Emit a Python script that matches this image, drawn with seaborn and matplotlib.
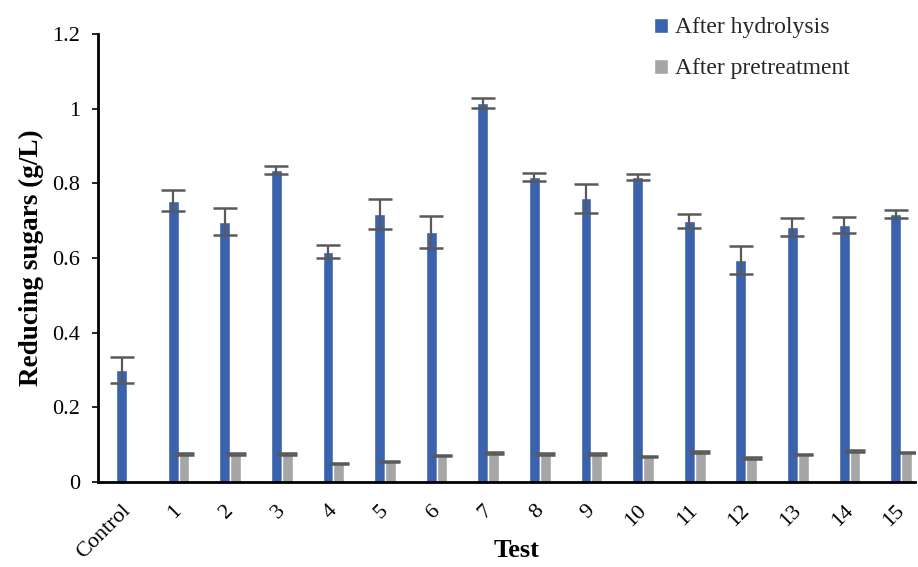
import matplotlib
matplotlib.use("Agg")
import matplotlib.pyplot as plt
import matplotlib.transforms as mtransforms
import seaborn as sns
import pandas as pd
import numpy as np

tests = ["Control", "1", "2", "3", "4", "5", "6", "7", "8", "9", "10",
         "11", "12", "13", "14", "15"]
hydrolysis = [0.300, 0.753, 0.697, 0.836, 0.617, 0.718, 0.670, 1.016,
              0.816, 0.760, 0.817, 0.699, 0.595, 0.683, 0.688, 0.718]
hydrolysis_err = [0.034, 0.028, 0.036, 0.010, 0.018, 0.040, 0.042, 0.013,
                  0.011, 0.039, 0.008, 0.019, 0.037, 0.024, 0.022, 0.011]
pretreatment = [np.nan, 0.075, 0.075, 0.075, 0.050, 0.055, 0.071, 0.078,
                0.075, 0.075, 0.068, 0.080, 0.064, 0.073, 0.083, 0.079]
pretreatment_err = [0.0, 0.002, 0.002, 0.002, 0.002, 0.002, 0.002, 0.002,
                    0.002, 0.002, 0.002, 0.002, 0.002, 0.002, 0.002, 0.002]

series = ["After hydrolysis", "After pretreatment"]
colors = {"After hydrolysis": "#3A62AD", "After pretreatment": "#A6A6A6"}

df = pd.DataFrame({
    "Test": tests * 2,
    "Series": [series[0]] * len(tests) + [series[1]] * len(tests),
    "Value": hydrolysis + pretreatment,
})
errors = {series[0]: hydrolysis_err, series[1]: pretreatment_err}

sns.set_theme(style="white")
plt.rcParams["font.family"] = ["Liberation Serif", "DejaVu Serif"]

fig = plt.figure(figsize=(9.18, 5.67), dpi=100)
ax = fig.add_axes([0.1068, 0.150, 0.890, 0.790])

sns.barplot(data=df, x="Test", y="Value", hue="Series", order=tests,
            hue_order=series, palette=colors, width=0.42, errorbar=None,
            saturation=1, ax=ax, legend=True)

# error bars at the centre of each drawn bar
for container, name in zip(ax.containers, series):
    for bar in container:
        h = bar.get_height()
        if not np.isfinite(h) or h == 0:
            continue
        cx = bar.get_x() + bar.get_width() / 2
        idx = int(round(cx))
        cap = 8.5 if name == series[0] else 7.5
        ax.errorbar(cx, h, yerr=errors[name][idx], fmt="none",
                    ecolor="#595959", elinewidth=1.6, capsize=cap,
                    capthick=1.8, zorder=3)

ax.set_ylim(0, 1.2)
ax.set_yticks(np.arange(0, 1.21, 0.2))
ax.set_yticklabels(["0", "0.2", "0.4", "0.6", "0.8", "1", "1.2"])
ax.set_xlim(-0.56, 15.27)

for side in ["top", "right"]:
    ax.spines[side].set_visible(False)
for side in ["left", "bottom"]:
    ax.spines[side].set_color("black")
    ax.spines[side].set_linewidth(2)

ax.tick_params(axis="y", which="both", left=True, length=4, width=1.2,
               color="black", labelsize=16, labelcolor="black", pad=9)
ax.tick_params(axis="x", bottom=False, labelsize=16, labelcolor="black", pad=8)
shift = mtransforms.ScaledTranslation(-6 / 100, 0, fig.dpi_scale_trans)
for lbl in ax.get_xticklabels():
    lbl.set_rotation(45)
    lbl.set_ha("right")
    lbl.set_rotation_mode("anchor")
    lbl.set_transform(lbl.get_transform() + shift)

ax.set_xlabel("Test", fontsize=19, fontweight="bold", color="black")
ax.xaxis.set_label_coords(0.512, -0.128)
ax.set_ylabel("Reducing sugars (g/L)", fontsize=19.5, fontweight="bold",
              color="black", labelpad=6)

leg = ax.legend(loc="upper left", bbox_to_anchor=(0.702, 0.986),
                bbox_transform=fig.transFigure, frameon=False, fontsize=17,
                handlelength=0.6, handleheight=0.6, handletextpad=0.3,
                labelspacing=0.85, borderaxespad=0)

fig.savefig("out.png", dpi=100)
